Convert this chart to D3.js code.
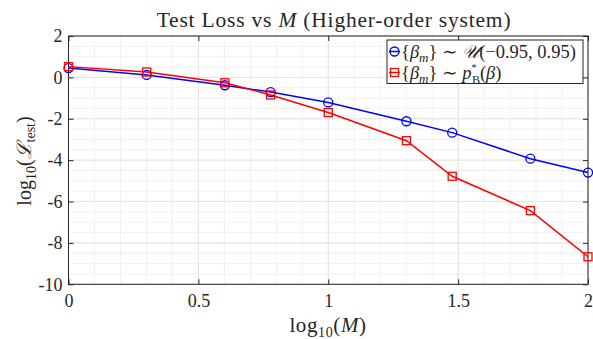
<!DOCTYPE html>
<html>
<head>
<meta charset="utf-8">
<script src="https://cdn.jsdelivr.net/npm/d3@7"></script>
<style>
  html, body { margin: 0; padding: 0; background: #fff; }
</style>
</head>
<body>
<svg id="chart" width="593" height="339"></svg>
<script>
// log10(M) for M = 1, 2, 4, 6, 10, 20, 30, 60, 100
const logM = [0, 0.30103, 0.60206, 0.77815, 1, 1.30103, 1.47712, 1.77815, 2];
// log10 test loss, uniform beta sampling
const lossUniform = [0.45, 0.12, -0.38, -0.71, -1.21, -2.12, -2.67, -3.93, -4.60];
// log10 test loss, optimal beta density
const lossOptimal = [0.52, 0.26, -0.26, -0.85, -1.70, -3.06, -4.78, -6.44, -8.67];
const xTicks = [0, 0.5, 1, 1.5, 2];
const yTicks = [2, 0, -2, -4, -6, -8, -10];

const FONT = '"Liberation Serif", "Times New Roman", "DejaVu Serif", serif';
const axisColor = "#262626";

const svg = d3.select("#chart");
const m = { left: 68.5, right: 588, top: 36, bottom: 284.3 };
const x = d3.scaleLinear().domain([0, 2]).range([m.left, m.right]);
const y = d3.scaleLinear().domain([-10, 2]).range([m.bottom, m.top]);

// grid: minor then major
const g = svg.append("g");
const xMinor = d3.range(0, 2.0001, 0.1);
const yMinor = d3.range(-10, 2.0001, 0.5);
g.selectAll(".xmin").data(xMinor).enter().append("line")
  .attr("x1", d => x(d)).attr("x2", d => x(d)).attr("y1", m.top).attr("y2", m.bottom)
  .attr("stroke", "#f0f0f0").attr("stroke-width", 1);
g.selectAll(".ymin").data(yMinor).enter().append("line")
  .attr("x1", m.left).attr("x2", m.right).attr("y1", d => y(d)).attr("y2", d => y(d))
  .attr("stroke", "#f0f0f0").attr("stroke-width", 1);
g.selectAll(".xmaj").data(xTicks).enter().append("line")
  .attr("x1", d => x(d)).attr("x2", d => x(d)).attr("y1", m.top).attr("y2", m.bottom)
  .attr("stroke", "#e3e3e3").attr("stroke-width", 1);
g.selectAll(".ymaj").data(yTicks).enter().append("line")
  .attr("x1", m.left).attr("x2", m.right).attr("y1", d => y(d)).attr("y2", d => y(d))
  .attr("stroke", "#e3e3e3").attr("stroke-width", 1);

// axes with inward ticks on all four sides
function styleAxis(sel) {
  sel.select(".domain").remove();
  sel.selectAll(".tick line").attr("stroke", axisColor).attr("stroke-width", 1);
  sel.selectAll(".tick text").attr("font-size", 18).attr("fill", axisColor)
    .attr("font-family", FONT);
}
svg.append("g").attr("transform", `translate(0,${m.bottom})`)
  .call(d3.axisBottom(x).tickValues(xTicks).tickFormat(d3.format("")).tickSizeInner(-5).tickPadding(10))
  .call(styleAxis);
svg.append("g").attr("transform", `translate(0,${m.top})`)
  .call(d3.axisTop(x).tickValues(xTicks).tickFormat("").tickSizeInner(-5))
  .call(styleAxis);
svg.append("g").attr("transform", `translate(${m.left},0)`)
  .call(d3.axisLeft(y).tickValues(yTicks).tickFormat(d => String(d).replace("\u2212", "-")).tickSizeInner(-5).tickPadding(6))
  .call(styleAxis);
svg.append("g").attr("transform", `translate(${m.right},0)`)
  .call(d3.axisRight(y).tickValues(yTicks).tickFormat("").tickSizeInner(-5))
  .call(styleAxis);

svg.append("rect").attr("x", m.left).attr("y", m.top)
  .attr("width", m.right - m.left).attr("height", m.bottom - m.top)
  .attr("fill", "none").attr("stroke", axisColor).attr("stroke-width", 1);

// series
const line = d3.line().x(d => x(d[0])).y(d => y(d[1]));
const blueData = logM.map((v, i) => [v, lossUniform[i]]);
const redData = logM.map((v, i) => [v, lossOptimal[i]]);

svg.append("path").datum(blueData).attr("d", line)
  .attr("fill", "none").attr("stroke", "#0000ff").attr("stroke-width", 1.5);
svg.append("path").datum(redData).attr("d", line)
  .attr("fill", "none").attr("stroke", "#ff0000").attr("stroke-width", 1.5);

svg.selectAll(".bm").data(blueData).enter().append("circle")
  .attr("cx", d => x(d[0])).attr("cy", d => y(d[1])).attr("r", 4.5)
  .attr("fill", "none").attr("stroke", "#0000ff").attr("stroke-width", 1.3);
svg.selectAll(".rm").data(redData).enter().append("rect")
  .attr("x", d => x(d[0]) - 4).attr("y", d => y(d[1]) - 4).attr("width", 8).attr("height", 8)
  .attr("fill", "none").attr("stroke", "#ff0000").attr("stroke-width", 1.3);

// title
const title = svg.append("text").attr("x", 334).attr("y", 26.5).attr("text-anchor", "middle")
  .attr("font-family", FONT).attr("fill", axisColor).attr("font-size", 21.5)
  .attr("letter-spacing", 0.8);
title.append("tspan").text("Test Loss vs ");
title.append("tspan").attr("font-style", "italic").text("M");
title.append("tspan").text(" (Higher-order system)");

// x label
const xl = svg.append("text").attr("x", 328).attr("y", 332).attr("text-anchor", "middle")
  .attr("font-family", FONT).attr("fill", axisColor).attr("font-size", 21)
  .attr("letter-spacing", 0.6);
xl.append("tspan").text("log");
xl.append("tspan").attr("font-size", 14).attr("dy", 5).text("10");
xl.append("tspan").attr("dy", -5).text("(");
xl.append("tspan").attr("font-style", "italic").text("M");
xl.append("tspan").text(")");

// y label
const yl = svg.append("text").attr("transform", "translate(31,161) rotate(-90)")
  .attr("text-anchor", "middle").attr("font-family", FONT).attr("fill", axisColor).attr("font-size", 20);
yl.append("tspan").text("log");
yl.append("tspan").attr("font-size", 14).attr("dy", 5).text("10");
yl.append("tspan").attr("dy", -5).text("(");
yl.append("tspan").attr("font-style", "italic").text("\u2112");
yl.append("tspan").attr("font-size", 14).attr("dy", 4).text("test");
yl.append("tspan").attr("dy", -4).text(")");

// legend
const lg = svg.append("g");
lg.append("rect").attr("x", 387).attr("y", 40).attr("width", 196).attr("height", 43.5)
  .attr("fill", "#fff").attr("stroke", axisColor).attr("stroke-width", 1);
const rows = [
  { y: 51.5, color: "#0000ff", shape: "circle" },
  { y: 72.5, color: "#ff0000", shape: "square" }
];
rows.forEach(r => {
  lg.append("line").attr("x1", 389).attr("x2", 400).attr("y1", r.y).attr("y2", r.y)
    .attr("stroke", r.color).attr("stroke-width", 1.5);
  if (r.shape === "circle") {
    lg.append("circle").attr("cx", 394.5).attr("cy", r.y).attr("r", 4.5)
      .attr("fill", "none").attr("stroke", r.color).attr("stroke-width", 1.3);
  } else {
    lg.append("rect").attr("x", 390.5).attr("y", r.y - 4).attr("width", 8).attr("height", 8)
      .attr("fill", "none").attr("stroke", r.color).attr("stroke-width", 1.3);
  }
});
const t1 = lg.append("text").attr("x", 401).attr("y", rows[0].y + 6)
  .attr("font-family", FONT).attr("fill", axisColor).attr("font-size", 18.5);
t1.append("tspan").text("{");
t1.append("tspan").attr("font-style", "italic").text("\u03B2");
t1.append("tspan").attr("font-style", "italic").attr("font-size", 13).attr("dy", 4).text("m");
t1.append("tspan").attr("dy", -4).text("} \u223C ");
t1.append("tspan").attr("font-style", "italic").text("\u{1D4B0}");
t1.append("tspan").text("(\u22120.95, 0.95)");

const t2 = lg.append("text").attr("x", 401).attr("y", rows[1].y + 6)
  .attr("font-family", FONT).attr("fill", axisColor).attr("font-size", 18.5);
t2.append("tspan").text("{");
t2.append("tspan").attr("font-style", "italic").text("\u03B2");
t2.append("tspan").attr("font-style", "italic").attr("font-size", 13).attr("dy", 4).text("m");
t2.append("tspan").attr("dy", -4).text("} \u223C ");
t2.append("tspan").attr("font-style", "italic").text("p");
t2.append("tspan").attr("font-size", 10).attr("dy", -8).text("*");
t2.append("tspan").attr("font-size", 12).attr("dx", -4.5).attr("dy", 13).text("B");
t2.append("tspan").attr("dy", -5).text("(");
t2.append("tspan").attr("font-style", "italic").text("\u03B2");
t2.append("tspan").text(")");
</script>
</body>
</html>
